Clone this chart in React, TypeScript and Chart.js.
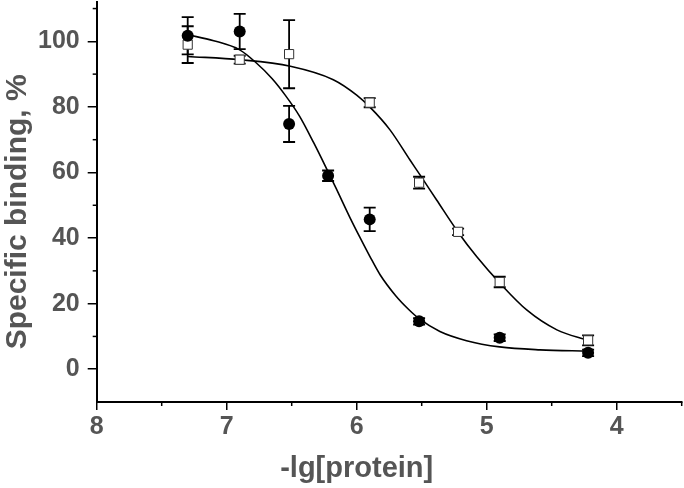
import React, { useEffect, useRef } from 'react';
import { Chart, registerables } from 'chart.js';

Chart.register(...registerables);

// Axis ticks
const X_TICKS = [8, 7, 6, 5, 4];
const X_MINOR = [7.5, 6.5, 5.5, 4.5, 3.5];
const Y_TICKS = [0, 20, 40, 60, 80, 100];
const Y_MINOR = [10, 30, 50, 70, 90, 110];

const X_TITLE = '-lg[protein]';
const Y_TITLE = 'Specific binding, %';

// Filled circles
const filledX = [7.3, 6.9, 6.52, 6.22, 5.9, 5.52, 4.9, 4.22];
const filledY = [101.7, 103, 74.8, 59.0, 45.7, 14.6, 9.6, 5.0];
const filledErr = [5.7, 5.4, 5.5, 1.6, 3.6, 1.0, 1.0, 1.0];

// Open squares
const openX = [7.3, 6.9, 6.52, 5.9, 5.52, 5.22, 4.9, 4.22];
const openY = [99, 94.4, 96.1, 81.3, 56.9, 41.9, 26.6, 8.8];
const openErr = [5.6, 1.2, 10.4, 1.4, 1.8, 1.0, 1.6, 1.5];

// Fitted curves
const fitFilledX = [7.3, 7.1, 6.9, 6.78, 6.65, 6.55, 6.44, 6.33, 6.22, 6.16, 6.05, 5.975, 5.9, 5.82, 5.7, 5.6, 5.52, 5.36, 5.155, 4.9, 4.59, 4.22];
const fitFilledY = [102.0, 100.2, 97.4, 93.7, 88.6, 83.6, 77.2, 69.0, 60.2, 55.3, 46.1, 40.2, 34.5, 28.8, 22.4, 18.2, 15.4, 11.5, 8.7, 6.8, 5.9, 5.5];

const fitOpenX = [7.3, 6.9, 6.51, 6.18, 6.0, 5.9, 5.744, 5.59, 5.5, 5.385, 5.22, 5.076, 4.895, 4.69, 4.46, 4.22];
const fitOpenY = [95.4, 94.4, 92.4, 88.3, 83.6, 80.0, 73.0, 63.8, 58.5, 51.6, 41.8, 34.3, 26.1, 18.0, 12.0, 8.8];

const TEXT_COLOR = '#555555';
const FONT_FAMILY = '"Liberation Sans", Arial, sans-serif';

const toPts = (xs: number[], ys: number[]) => xs.map((x, i) => ({ x, y: ys[i] }));

const errorBarPlugin = {
  id: 'errorBars',
  beforeDatasetsDraw(chart: any) {
    const { ctx, scales } = chart;
    const xs = scales.x;
    const ys = scales.y;
    ctx.save();
    ctx.strokeStyle = '#000';
    ctx.lineWidth = 1.8;
    const cap = 6;
    const sets: [number[], number[], number[]][] = [
      [filledX, filledY, filledErr],
      [openX, openY, openErr],
    ];
    sets.forEach(([xv, yv, ev]) => {
      xv.forEach((x, i) => {
        const px = xs.getPixelForValue(x);
        const top = ys.getPixelForValue(yv[i] + ev[i]);
        const bot = ys.getPixelForValue(yv[i] - ev[i]);
        ctx.beginPath();
        ctx.moveTo(px, top);
        ctx.lineTo(px, bot);
        ctx.moveTo(px - cap, top);
        ctx.lineTo(px + cap, top);
        ctx.moveTo(px - cap, bot);
        ctx.lineTo(px + cap, bot);
        ctx.stroke();
      });
    });
    ctx.restore();
  },
};

const decorPlugin = {
  id: 'decor',
  afterDraw(chart: any) {
    const { ctx, scales, chartArea } = chart;
    const xs = scales.x;
    const ys = scales.y;
    ctx.save();
    ctx.strokeStyle = '#000';
    ctx.lineWidth = 1.5;
    X_MINOR.forEach((v) => {
      const px = xs.getPixelForValue(v);
      ctx.beginPath();
      ctx.moveTo(px, chartArea.bottom);
      ctx.lineTo(px, chartArea.bottom + 4);
      ctx.stroke();
    });
    Y_MINOR.forEach((v) => {
      const py = ys.getPixelForValue(v);
      ctx.beginPath();
      ctx.moveTo(chartArea.left, py);
      ctx.lineTo(chartArea.left - 4, py);
      ctx.stroke();
    });
    // titles
    ctx.fillStyle = TEXT_COLOR;
    ctx.font = `bold 29px ${FONT_FAMILY}`;
    ctx.textAlign = 'center';
    ctx.textBaseline = 'alphabetic';
    ctx.fillText(X_TITLE, xs.getPixelForValue(6), chartArea.bottom + 75);
    ctx.font = `bold 30px ${FONT_FAMILY}`;
    ctx.save();
    ctx.translate(26, ys.getPixelForValue(48));
    ctx.rotate(-Math.PI / 2);
    ctx.fillText(Y_TITLE, 0, 0);
    ctx.restore();
    ctx.restore();
  },
};

const zeroPad = (s: any) => {
  s.paddingTop = 0;
  s.paddingBottom = 0;
  s.paddingLeft = 0;
  s.paddingRight = 0;
};

export default function App() {
  const ref = useRef<HTMLCanvasElement | null>(null);
  useEffect(() => {
    document.body.style.margin = '0';
    if (!ref.current) return;
    const tickFont = { family: FONT_FAMILY, size: 25, weight: 'bold' as const };
    const chart = new Chart(ref.current, {
      type: 'scatter',
      data: {
        datasets: [
          {
            type: 'line',
            data: toPts(fitFilledX, fitFilledY),
            borderColor: '#000',
            borderWidth: 1.6,
            pointRadius: 0,
            fill: false,
            cubicInterpolationMode: 'monotone',
            order: 3,
          } as any,
          {
            type: 'line',
            data: toPts(fitOpenX, fitOpenY),
            borderColor: '#000',
            borderWidth: 1.6,
            pointRadius: 0,
            fill: false,
            cubicInterpolationMode: 'monotone',
            order: 3,
          } as any,
          {
            data: toPts(openX, openY),
            pointStyle: 'rect',
            pointRadius: 6.5,
            backgroundColor: '#fff',
            borderColor: '#333',
            borderWidth: 1,
            order: 2,
          },
          {
            data: toPts(filledX, filledY),
            pointStyle: 'circle',
            pointRadius: 6,
            backgroundColor: '#000',
            borderColor: '#000',
            borderWidth: 0,
            order: 1,
          },
        ],
      },
      options: {
        animation: false,
        responsive: false,
        layout: { autoPadding: false, padding: { top: 2, right: 2.3, left: 0, bottom: 0 } },
        plugins: { legend: { display: false }, tooltip: { enabled: false } },
        scales: {
          x: {
            type: 'linear',
            min: 3.5,
            max: 8,
            reverse: true,
            afterBuildTicks: (s: any) => {
              s.ticks = X_TICKS.map((v) => ({ value: v }));
            },
            afterFit: (s: any) => {
              s.height = 86;
              zeroPad(s);
            },
            grid: { drawOnChartArea: false, drawTicks: true, tickLength: 8, color: '#000', lineWidth: 1.5 },
            border: { color: '#000', width: 2 },
            ticks: { font: tickFont, color: TEXT_COLOR, padding: 2, maxRotation: 0, autoSkip: false },
          },
          y: {
            type: 'linear',
            min: -10,
            max: 112,
            afterBuildTicks: (s: any) => {
              s.ticks = Y_TICKS.map((v) => ({ value: v }));
            },
            afterFit: (s: any) => {
              s.width = 96.7;
              zeroPad(s);
            },
            grid: { drawOnChartArea: false, drawTicks: true, tickLength: 9, color: '#000', lineWidth: 1.5 },
            border: { color: '#000', width: 2 },
            ticks: { font: tickFont, color: TEXT_COLOR, padding: 8, autoSkip: false },
          },
        },
      },
      plugins: [errorBarPlugin, decorPlugin],
    });
    return () => chart.destroy();
  }, []);
  return (
    <div style={{ width: 684, height: 488 }}>
      <canvas ref={ref} width={684} height={488} />
    </div>
  );
}
